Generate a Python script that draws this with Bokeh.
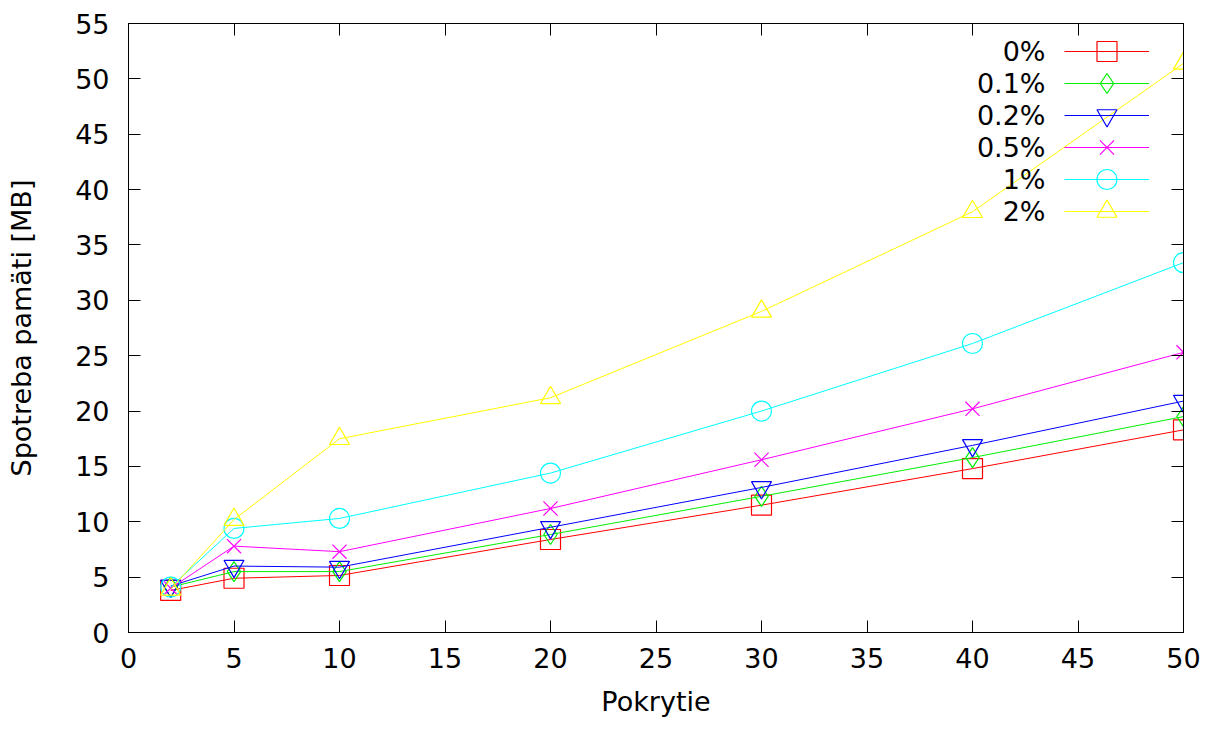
from bokeh.plotting import figure
from bokeh.models import (LinearAxis, SingleIntervalTicker, Range1d, Legend, LegendItem,
                          CustomJSTickFormatter, Label)
from bokeh.core.properties import value
from bokeh.embed import file_html
from bokeh.resources import INLINE

# Data
coverage = [2, 5, 10, 20, 30, 40, 50]
series_names = ["0%", "0.1%", "0.2%", "0.5%", "1%", "2%"]
mem_0 = [3.8, 4.9, 5.15, 8.4, 11.5, 14.8, 18.3]
mem_01 = [4.1, 5.5, 5.5, 8.85, 12.3, 15.8, 19.5]
mem_02 = [4.2, 6.0, 5.9, 9.5, 13.1, 16.9, 20.9]
mem_05 = [4.0, 7.8, 7.3, 11.2, 15.6, 20.2, 25.3]
mem_1 = [4.1, 9.4, 10.3, 14.4, 20.0, 26.1, 33.4]
mem_2 = [3.9, 10.2, 17.5, 21.2, 29.0, 38.0, 51.4]

series_values = [mem_0, mem_01, mem_02, mem_05, mem_1, mem_2]
colors = ["#ff0000", "#00ee00", "#0000ff", "#ff00ff", "#00ffff", "#ffff00"]
markers = ["square", "diamond", "inverted_triangle", "x", "circle", "triangle"]

FONT = "DejaVu Sans"
FS = "27px"

p = figure(width=1215, height=729, output_backend="svg", toolbar_location=None,
           x_range=Range1d(0, 50), y_range=Range1d(0, 55),
           min_border_left=128, min_border_right=32, min_border_top=23, min_border_bottom=97)
p.xgrid.visible = False
p.ygrid.visible = False
p.outline_line_color = "black"
p.outline_line_width = 1
p.background_fill_color = "white"
p.border_fill_color = "white"

for ax in (p.xaxis[0], p.yaxis[0]):
    ax.ticker = SingleIntervalTicker(interval=5)
    ax.major_tick_in = 12
    ax.major_tick_out = 0
    ax.minor_tick_in = 0
    ax.minor_tick_out = 0
    ax.axis_line_color = "black"
    ax.major_tick_line_color = "black"
    ax.major_label_text_font = FONT
    ax.major_label_text_font_size = FS
    ax.major_label_text_color = "black"
    ax.axis_label_text_font = FONT
    ax.axis_label_text_font_size = FS
    ax.axis_label_text_font_style = "normal"
    ax.axis_label_text_color = "black"

p.xaxis[0].axis_label = "Pokrytie"
p.xaxis[0].major_label_standoff = 15
p.xaxis[0].axis_label_standoff = 15
p.yaxis[0].axis_label = "Spotreba pamäti [MB]"
p.yaxis[0].major_label_standoff = 19
p.yaxis[0].axis_label_standoff = 35

# Mirror ticks (no labels)
for side in ("above", "right"):
    ax = LinearAxis(ticker=SingleIntervalTicker(interval=5),
                    formatter=CustomJSTickFormatter(code="return ''"))
    ax.major_tick_in = 12
    ax.major_tick_out = 0
    ax.minor_tick_in = 0
    ax.minor_tick_out = 0
    ax.major_label_text_font_size = "1px"
    ax.major_label_standoff = 0
    ax.axis_line_color = "black"
    ax.major_tick_line_color = "black"
    p.add_layout(ax, side)

# gnuplot-style key: samples on the right, right-aligned titles to their left
KEY_ROW = 32
KEY_TOP = 12          # px below the top of the frame
KEY_SAMPLE_X = 936    # px from the left of the frame
KEY_TEXT_GAP = 19
KEY_GLYPH_H = 50      # taller sample box so key markers match plot markers

frame_h = 729 - 23 - 97

for i, (name, vals, col, mk) in enumerate(zip(series_names, series_values, colors, markers)):
    r1 = p.line(coverage, vals, line_color=col, line_width=1)
    r2 = p.scatter(coverage, vals, marker=mk, size=20, line_color=col,
                   fill_color=None, line_width=1.2)
    row_center = frame_h - KEY_TOP - KEY_ROW * i - KEY_ROW / 2
    key = Legend(items=[LegendItem(label=value(""), renderers=[r1, r2])],
                 location=(KEY_SAMPLE_X, row_center - KEY_GLYPH_H / 2),
                 glyph_width=85, glyph_height=KEY_GLYPH_H, label_height=KEY_GLYPH_H,
                 spacing=0, label_text_font=FONT, label_text_font_size=FS, label_width=0,
                 label_standoff=0, padding=0, margin=0,
                 border_line_color=None, background_fill_alpha=0)
    p.add_layout(key)
    p.add_layout(Label(x=KEY_SAMPLE_X - KEY_TEXT_GAP, y=row_center,
                       x_units="screen", y_units="screen", text=name,
                       text_align="right", text_baseline="middle",
                       text_font=FONT, text_font_size=FS, text_color="black"))

open("out.html", "w").write(file_html(p, INLINE))
